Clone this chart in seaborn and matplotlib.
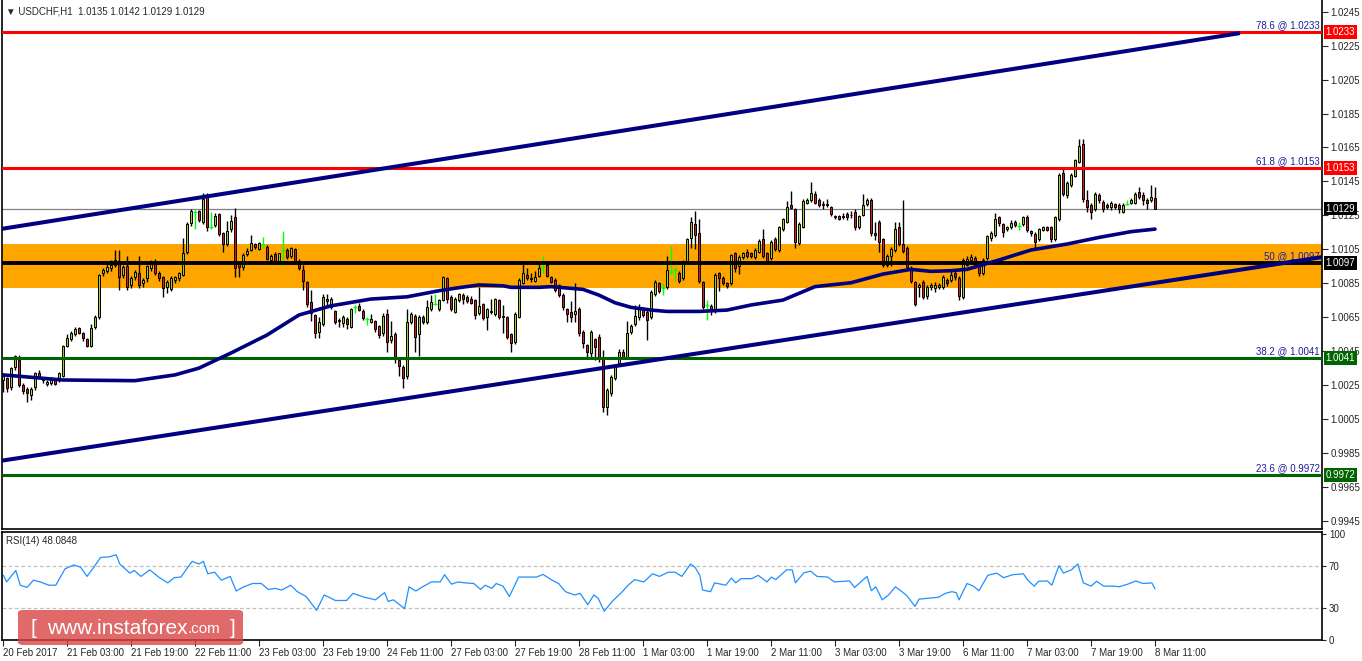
import matplotlib
matplotlib.use("Agg")
import matplotlib.pyplot as plt
import matplotlib.transforms as mtrans
from matplotlib.patches import FancyBboxPatch
import numpy as np
import pandas as pd
import seaborn as sns

# USDCHF H1 candles, prices given as pips above 1.0000
opens = [
    28, 29, 23.7, 35.4, 39.8, 25, 22.7, 19.1, 23.7, 32.3,
    29.3, 25.4, 26, 28, 28, 30.3, 48.2, 52, 55, 58.4,
    55.5, 52, 48.2, 59.4, 65.3, 90.8, 92.4, 93.8, 95.7, 98.3,
    89.8, 95.1, 83.9, 88.5, 91.2, 85, 87.9, 93.8, 97.7, 91.2,
    88.9, 83, 81.4, 86.9, 87.9, 89.9, 103.6, 120.7, 127, 127.6,
    121.3, 136, 118.3, 119.3, 125.8, 114.4, 108.1, 116.7, 123.8, 96.1,
    94.8, 102.3, 104.6, 107.9, 105.4, 107.5, 106.5, 98.5, 102, 98.3,
    104.6, 104.6, 101.2, 105.2, 98.1, 92.8, 85.5, 73.7, 66.3, 56.4,
    61, 75.5, 71.2, 68.6, 63.3, 61.7, 63.7, 59.4, 70.8, 71.6,
    68.8, 63.7, 62.3, 62.7, 59.8, 55.5, 66.7, 51.5, 55, 39.7,
    35.8, 30.5, 62.3, 65.7, 54.9, 65.3, 61.9, 69.6, 72.5, 69.6,
    75.1, 87.9, 76.7, 68.2, 75.1, 78, 76.7, 75.5, 75.1, 67.6,
    72.7, 65.3, 68, 66.7, 75.1, 65.7, 64.9, 54.9, 50.5, 65.3,
    85.3, 89.8, 87.6, 86.5, 89.2, 94.7, 95.7, 88.8, 86.9, 83.9,
    78, 69.6, 67.8, 66.7, 69.6, 56.4, 48.6, 43.7, 52.1, 53.5,
    40.7, 11.9, 20.1, 29, 37.8, 44.7, 41.7, 56.4, 61, 64.9,
    70.2, 68.2, 65.3, 78.6, 85.3, 82, 82.6, 91.8, 92.8, 91.2,
    87.9, 98.3, 111.4, 119.9, 114.4, 85.5, 72.2, 71.6, 68.8, 90.8,
    88.3, 84.9, 84.9, 102.6, 95.1, 100.6, 103.6, 102.6, 100.6, 103.6,
    110.8, 102.6, 99.7, 110.8, 104.6, 116.7, 121.3, 131.1, 128.5, 108.5,
    118.3, 132.4, 134, 137.5, 134, 131.5, 131.7, 129.7, 124.6, 124.6,
    124.2, 125.8, 125, 127.1, 118.3, 125.2, 131.5, 134, 114.8, 121.3,
    110.8, 95.7, 101, 104.6, 117.9, 108.1, 105.9, 93.8, 85.5, 82.6,
    85.5, 77.7, 82.6, 82, 82.6, 82.6, 86.9, 86.9, 90.8, 87.9,
    76.7, 96, 98.7, 100, 95, 91.2, 99.7, 111.4, 113.4, 123.8,
    119.9, 116.7, 118.3, 121.3, 118.7, 119.7, 124.2, 115.9, 114, 110.8,
    116.4, 117.9, 118.3, 110.8, 122.6, 149.7, 137, 142.9, 148.2, 156.6,
    167, 134, 131.1, 128.5, 137, 133, 131, 129.7, 131.7, 131.1,
    127.2, 131.7, 132.4, 132.4, 139, 137, 134, 134, 135,
]
closes = [
    30.3, 23, 34.8, 42.1, 25, 21.5, 20.5, 22.5, 31.9, 30,
    28, 27, 28, 25.4, 31.9, 48, 52.9, 55.5, 58, 55.5,
    52.5, 48, 58.4, 65.3, 89.9, 92.8, 94.4, 95.7, 98.7, 88.5,
    94.4, 82.6, 87.9, 91.8, 84, 86.9, 95.2, 97.7, 91.2, 87.9,
    82.4, 85.9, 88.3, 88.9, 90.8, 102.6, 119.9, 127.6, 127, 122.3,
    134.4, 117.9, 118.3, 124.6, 114, 108.1, 116, 121.7, 93.8, 94.8,
    101.6, 104, 108.5, 106.5, 108.5, 107.5, 99.3, 101, 98.3, 102.6,
    104.6, 100.7, 105.6, 98.1, 93.8, 86.5, 72.6, 67.3, 55.5, 62.4,
    77.1, 74.7, 75.7, 62.4, 62.5, 64.9, 60.8, 69.6, 70.8, 69.2,
    64.7, 63.7, 63.9, 58, 54.5, 65.7, 50.5, 53.9, 41.7, 36.2,
    29.3, 61.9, 66.7, 53.5, 64.9, 62.3, 70.8, 73.7, 72.5, 75.1,
    88.5, 75.5, 69.6, 75.5, 78.6, 75.5, 74.7, 73.5, 66.3, 71.6,
    64.7, 69.6, 68.4, 75.5, 65.3, 65.3, 53.5, 49.6, 66.7, 86.9,
    90.8, 87.9, 87.9, 88.5, 93.8, 94.7, 89.2, 85.9, 81, 78,
    70.8, 66.7, 65.3, 68.6, 55.5, 49.6, 44.7, 56.4, 47.6, 40.7,
    12.3, 22.1, 29.5, 35.8, 44.7, 41.7, 55.5, 59.8, 65.7, 71.2,
    66.3, 63.3, 80, 85.9, 80.6, 82, 92.8, 91.8, 92.8, 86.5,
    97.7, 110.8, 121.3, 113.4, 86.5, 71.2, 72.2, 68.8, 89.8, 88.3,
    85.3, 83.3, 101.6, 93.8, 100.2, 102.6, 101, 101, 104.5, 110,
    101, 98.3, 109.5, 105, 117.9, 122.6, 129.7, 129.5, 109.5, 119.9,
    133.6, 134, 138.3, 132.4, 131, 131.2, 131, 125.6, 123.8, 122.8,
    124.6, 123.8, 125.4, 117.9, 124.6, 131.1, 134, 114.4, 113.4, 109.5,
    95.7, 101, 105, 116.7, 108.1, 104.2, 94.7, 86.5, 72.6, 83.9,
    76.7, 82.6, 83.9, 84, 84, 88.5, 84.9, 89.8, 88.5, 77.7,
    98.7, 99, 100.2, 95, 91, 98.7, 112.8, 114.4, 122.6, 120.7,
    115.4, 117.9, 120.7, 119.3, 118.7, 123.8, 116.4, 114.4, 109.5, 116.7,
    117.9, 116.4, 110.8, 123.8, 148.8, 137.6, 144.2, 148.8, 157.6, 165.8,
    134.4, 129.7, 127.2, 137.6, 134, 128.5, 130, 132.1, 129.7, 128.5,
    131.1, 131.7, 134, 137.6, 135.6, 134, 132.4, 135.6, 129,
]
highs = [
    31.5, 30, 35.5, 42.7, 42.7, 26, 24, 24, 32.8, 33.9,
    30, 28, 29.5, 28.5, 33, 48.5, 55, 57, 59.5, 59.5,
    56, 53, 61, 66, 90.5, 94, 97, 98.7, 104.4, 104.6,
    96, 101, 89, 93, 101, 88, 96, 98.5, 99, 92,
    89.5, 87, 89, 89.5, 91.5, 111.5, 121, 128.5, 128, 128,
    138, 138, 127, 126.5, 126.6, 115, 121.5, 125, 129.5, 97.5,
    103, 105.5, 113.4, 109, 109.5, 112, 107.5, 102, 103.5, 103,
    116, 106, 106.5, 106, 99, 96, 86.5, 81, 67, 65,
    78.7, 78.7, 77, 69.5, 64.5, 66.5, 65, 70.5, 72.2, 73.1,
    70, 65.3, 67, 63.5, 60.5, 67.5, 69.6, 62.9, 56, 41,
    37, 69.8, 68, 67, 66, 66.5, 75.1, 78, 78.6, 76,
    89, 88.5, 78, 77, 79.5, 79, 78, 77.5, 76, 83,
    73.5, 70.5, 75.5, 76.5, 76, 72.2, 65.5, 55.5, 68, 88,
    96.7, 94, 91, 92, 96.5, 101, 96.7, 89.5, 88, 84.5,
    79, 70.5, 74.7, 84.9, 71, 57.5, 49.5, 57.5, 53, 55,
    45.5, 23, 31, 37, 46, 46, 62.5, 61, 72.3, 73,
    71, 69.5, 81, 87, 86, 84.9, 101, 106.9, 94.7, 92,
    98.5, 111.5, 124.2, 127.5, 122.6, 86.5, 75.1, 72.5, 91, 91.5,
    89.5, 85.5, 102.5, 103.5, 101.5, 103.5, 105, 103.5, 105.5, 111,
    116.7, 103.5, 110.5, 112, 118.5, 123.5, 133.6, 139.5, 129.5, 121,
    134.5, 135.5, 144.4, 139.5, 135.5, 133.5, 134.5, 130.5, 125.5, 125.5,
    126.5, 126.7, 127.5, 128.5, 125.5, 137.5, 135, 135, 121.3, 122.2,
    111.5, 102, 106.5, 121.3, 121, 134, 107, 95, 86.5, 85,
    87, 84, 85, 86, 85, 90, 88, 92, 92, 89,
    100, 101, 102, 101, 96, 100, 113.5, 115.5, 126.5, 124.8,
    120.5, 119, 122, 122, 121, 124.5, 125, 116.5, 115, 117.5,
    118.5, 118.5, 119, 124.5, 150, 153.7, 145, 150, 158.5, 170,
    170, 140, 132, 138.5, 138, 134, 132, 133.5, 132.5, 132,
    132, 134, 135, 139, 142, 138.5, 135, 142.9, 142,
]
lows = [
    21, 20.7, 22, 34, 24, 20, 15.2, 16, 22, 29,
    26.5, 24.5, 25, 25, 27, 30, 47.5, 51, 54, 55,
    51, 47.5, 47.5, 58, 64, 89, 91, 92, 94.5, 81,
    88, 81, 82, 87, 82, 83, 86, 92, 90, 86.5,
    77, 79.5, 80.5, 85, 86.5, 89, 102, 119, 117, 121,
    120, 116, 117, 118, 113, 103.5, 107, 115, 88.5, 88.5,
    93, 101, 104, 105, 104.5, 106, 98.5, 97.5, 96.5, 97,
    95.7, 99, 100, 96.5, 93, 81, 71, 63, 52.5, 52.5,
    60, 72, 70, 61, 59.5, 59, 58, 58.5, 67.6, 68.5,
    63.5, 60.4, 61.5, 56.5, 52.5, 54, 44.7, 50, 38.2, 30.3,
    23.4, 28.5, 61, 44.6, 42.1, 61, 61, 68.5, 72, 68.5,
    74.5, 73.5, 68.5, 67.5, 74, 72.5, 73.5, 72.5, 64, 66,
    63.5, 57.4, 67, 65.5, 64, 55.5, 52, 44.6, 49.5, 64.5,
    84.5, 87, 86, 85.5, 88.5, 91, 88.5, 85, 80, 77,
    69.5, 62, 62, 62.3, 54, 47, 40.5, 40.7, 39.5, 38.5,
    9.3, 7.3, 18.5, 28, 37, 40.5, 40.7, 55, 60, 63.5,
    65, 51.5, 64, 77.5, 79.5, 78, 81.5, 90.4, 86.5, 85,
    87, 97.5, 106, 105, 85, 70, 63.3, 66.5, 67.5, 80.5,
    84, 82, 84, 91.5, 90.4, 99.5, 100, 100, 99.5, 103,
    100, 97, 98.5, 104, 103.5, 115.5, 120.5, 128.5, 105.5, 107.5,
    117.5, 131.5, 133, 131.5, 130, 129, 130, 124.5, 123, 122,
    123, 122.5, 123.5, 116.5, 117, 124.5, 130.5, 113, 110.5, 103.5,
    94.5, 94.5, 95, 103.5, 107, 103, 93.5, 85, 71.5, 77,
    75.5, 76, 81, 80, 81.5, 81.5, 83.5, 86, 87, 75,
    76, 95, 97.5, 94, 89.5, 90, 98.5, 110, 112, 119,
    112.5, 115.5, 117, 118, 116.5, 118.5, 115, 113, 105.5, 110,
    115.5, 115.5, 109.5, 110, 121.5, 136.5, 135.5, 142, 147.5, 156,
    133, 127, 122.6, 127.5, 132.5, 127, 128.5, 128, 128.5, 126.5,
    126.5, 131, 131.5, 131.5, 134.5, 131, 129, 133, 129,
]

# moving average (pips), sampled along the curve
ma_bars = [0, 15, 33, 43, 49, 57, 66, 74, 82, 86, 92, 101, 109, 114, 119, 125, 127, 134, 137, 142,
           145, 149, 153, 157, 162, 166, 174, 181, 187, 195, 203, 212, 220, 227, 232, 237, 241, 249,
           257, 266, 274, 282, 288]
ma_vals = [31, 28, 27.6, 31, 35, 43.9, 54.5, 66.3, 71.7, 73.3, 75.7, 77, 80.6, 82.4, 84, 83.5, 82.6,
           82.6, 83, 82, 81.4, 78, 73.5, 70.8, 69.2, 68.4, 68.4, 69.2, 72.2, 75.1, 83, 85.3, 90.4,
           93.2, 92, 92.4, 93.2, 98.7, 104.6, 108.1, 112, 115.4, 116.9]

# RSI(14)
rsi_bars = [0.1, 0.9, 3.2, 4.3, 6.0, 7.6, 9.3, 11.5, 13.2, 15.5, 17.7, 19.4, 21.0, 22.7, 24.4, 26.6,
            28.3, 29.2, 31.7, 32.8, 34.5, 36.7, 38.9, 41.2, 42.8, 44.5, 46.2, 47.3, 49.0, 50.1, 51.2,
            52.9, 54.6, 56.8, 58.3, 60.2, 62.4, 64.6, 66.3, 68.0, 69.7, 71.9, 73.6, 75.8, 78.4, 80.3,
            83.1, 85.9, 87.5, 90.3, 93.1, 95.4, 96.3, 97.6, 100.4, 101.5, 103.2, 104.9, 107.1, 109.3,
            110.4, 112.1, 113.8, 115.5, 117.7, 119.4, 120.5, 122.2, 123.3, 125.0, 126.6, 128.9, 131.1,
            133.4, 135.0, 137.3, 138.9, 140.6, 142.9, 144.3, 146.2, 147.7, 148.8, 150.3, 152.3, 154.6,
            156.3, 157.9, 160.2, 162.4, 164.1, 166.3, 168.0, 169.7, 171.9, 173.0, 174.2,
            174.9, 176.9, 177.9, 180.7, 182.1, 183.2, 184.5, 187.2, 188.8, 191.0, 192.1, 193.2, 195.9,
            197.3, 198.1, 200.2, 201.9, 203.5, 206.2, 207.8, 211.6, 212.9, 216.0, 217.1, 218.2, 219.8,
            221.4, 223.1, 225.8, 228.0, 229.0, 231.2, 233.9, 235.6, 237.2, 238.3, 239.0, 241.0, 242.6,
            244.0, 246.2, 248.4, 250.2, 252.4, 255.1, 256.2, 257.8, 258.9, 261.1, 262.2, 264.0, 265.1,
            267.1, 268.7, 270.1, 272.0, 273.4, 275.2, 277.9, 279.0, 281.2, 283.2, 285.0, 287.2, 288.0]
rsi_vals = [60.8, 54.6, 65.4, 51.5, 49.4, 56.2, 54.6, 51.5, 51.5, 66.9, 70.6, 68.5, 59.8, 68.5, 77.7,
            78.3, 80.2, 71.5, 62.9, 65.4, 59.8, 66.0, 59.2, 53.7, 58.6, 59.2, 68.5, 74.0, 71.5, 74.0,
            62.3, 63.8, 56.2, 59.8, 46.0, 50.0, 53.1, 53.1, 47.5, 48.5, 46.9, 51.5, 45.4, 40.8, 27.8,
            42.3, 37.1, 37.1, 43.8, 40.2, 37.7, 44.5, 36.2, 37.7, 29.4, 50.0, 46.0, 50.0, 54.6, 54.6,
            61.4, 52.5, 54.6, 53.7, 53.1, 47.5, 51.5, 48.5, 53.1, 50.6, 40.8, 59.2, 59.2, 59.2, 61.7,
            56.2, 53.1, 45.4, 42.3, 43.8, 33.1, 42.3, 39.2, 26.9, 36.2, 44.5, 51.5, 56.8, 54.6, 62.3,
            59.8, 63.8, 63.8, 59.8, 71.5, 68.5, 60.8,
            46.9, 45.4, 53.7, 51.5, 58.3, 53.7, 57.7, 57.7, 60.8, 54.6, 59.2, 56.8, 66.0, 66.0, 53.7,
            63.2, 64.8, 59.8, 59.2, 54.6, 55.5, 49.4, 59.8, 46.3, 50.0, 37.7, 42.3, 50.0, 42.3, 31.5,
            38.3, 39.2, 40.2, 43.8, 45.4, 44.5, 37.7, 53.1, 50.6, 46.3, 60.8, 62.9, 58.6, 61.4, 62.3,
            56.2, 50.6, 55.2, 55.5, 51.5, 70.0, 62.9, 66.0, 71.5, 53.7, 50.6, 55.2, 50.6, 50.6, 50.0,
            52.5, 55.5, 53.1, 53.7, 48.1]

# channel lines (bar, price)
upper_channel_bars = [-0.75, 309.25]
upper_channel_prices = [1.01169, 1.02324]
lower_channel_bars = [-0.75, 329.75]
lower_channel_prices = [0.99803, 1.01004]

# fibonacci levels
level_pct = ["78.6", "61.8", "50", "38.2", "23.6"]
level_prices = [1.0233, 1.0153, 1.0097, 1.0041, 0.9972]
level_colors = ["#FF0000", "#FF0000", "#000000", "#006400", "#006400"]
zone_low, zone_high = 1.0082, 1.0108
last_price = 1.0129

date_labels = ["20 Feb 2017", "21 Feb 03:00", "21 Feb 19:00", "22 Feb 11:00", "23 Feb 03:00",
               "23 Feb 19:00", "24 Feb 11:00", "27 Feb 03:00", "27 Feb 19:00", "28 Feb 11:00",
               "1 Mar 03:00", "1 Mar 19:00", "2 Mar 11:00", "3 Mar 03:00", "3 Mar 19:00",
               "6 Mar 11:00", "7 Mar 03:00", "7 Mar 19:00", "8 Mar 11:00"]

sns.set_style("white")
plt.rcParams['font.family'] = ['Liberation Sans', 'DejaVu Sans']
plt.rcParams['axes.edgecolor'] = 'black'

W, H = 1362, 661
fig = plt.figure(figsize=(W / 100, H / 100), dpi=100)


def box(x0, y0, x1, y1):
    return [x0 / W, 1 - y1 / H, (x1 - x0) / W, (y1 - y0) / H]


ax = fig.add_axes(box(2, 0, 1322, 529))
rsi_ax = fig.add_axes(box(2, 532, 1322, 640))

df = pd.DataFrame({"open": opens, "close": closes, "high": highs, "low": lows})
df = 1 + df / 10000
df["bar"] = np.arange(len(df))

up = df[df.close > df.open]
dn = df[df.close < df.open]
dj = df[df.close == df.open]
bd = df[df.close != df.open]

ax.axhspan(zone_low, zone_high, color="#FFA500", lw=0, zorder=0)
ax.axhline(last_price, color="#808080", lw=0.9, zorder=1)

ax.vlines(bd.bar, bd.low, bd.high, color="black", lw=1, zorder=2)
ax.bar(up.bar, up.close - up.open, bottom=up.open, width=0.72, color="#9ACD32",
       edgecolor="black", lw=0.7, zorder=3)
ax.bar(dn.bar, dn.open - dn.close, bottom=dn.close, width=0.72, color="#CC1F1F",
       edgecolor="black", lw=0.7, zorder=3)
ax.vlines(dj.bar, dj.low, dj.high, color="#00FF00", lw=1, zorder=3)
ax.hlines(dj.open, dj.bar - 0.45, dj.bar + 0.45, color="#00FF00", lw=1, zorder=3)

trans = mtrans.blended_transform_factory(ax.transAxes, ax.transData)
for pct, price, col in zip(level_pct, level_prices, level_colors):
    ax.axhline(price, color=col, lw=2.8 if col == "#000000" else 2.2, zorder=5)
    ax.text(0.9985, price + 0.00012, f"{pct} @ {price:.4f}", transform=trans, ha="right",
            va="bottom", fontsize=7, color="#1C1C9C", zorder=5)

ax.plot(upper_channel_bars, [1 + 0 * 0 + p - 1 for p in upper_channel_prices],
        color="#000080", lw=2.9, zorder=6, solid_capstyle="butt")
ax.plot(lower_channel_bars, lower_channel_prices, color="#000080", lw=2.9, zorder=6,
        solid_capstyle="butt")
sns.lineplot(x=ma_bars, y=[1 + v / 10000 for v in ma_vals], ax=ax, color="#000080", lw=2.6,
             zorder=6)

ax.set_xlim(-0.25, 329.75)
ax.set_ylim(0.99402, 1.02519)
ax.set_xticks([])
ax.set_xlabel("")
ax.set_ylabel("")
yt = np.round(np.arange(0.9945, 1.0246, 0.002), 4)
ax.set_yticks(yt)
ax.set_yticklabels([f"{v:.4f}" for v in yt])
ax.yaxis.tick_right()
ax.tick_params(axis="y", right=True, left=False, length=4, width=0.8, labelsize=7, pad=2,
               direction="out")
ax.spines["top"].set_visible(False)
for s in ["left", "right", "bottom"]:
    ax.spines[s].set_linewidth(1.2)

for price, col in zip(level_prices + [last_price], level_colors + ["#000000"]):
    ax.text(1.0025, price, f"{price:.4f}", transform=trans, ha="left", va="center", fontsize=7,
            color="white", clip_on=False, zorder=10,
            bbox=dict(boxstyle="square,pad=0.18", fc=col, ec="none"))

# RSI panel
rsi_ax.axhline(70, color="#C0C0C0", lw=0.9, ls=(0, (3, 2)))
rsi_ax.axhline(30, color="#C0C0C0", lw=0.9, ls=(0, (3, 2)))
sns.lineplot(x=rsi_bars, y=rsi_vals, ax=rsi_ax, color="#1E90FF", lw=0.9)
rsi_ax.set_xlim(-0.25, 329.75)
rsi_ax.set_ylim(-0.2, 101.7)
rsi_ax.set_xlabel("")
rsi_ax.set_ylabel("")
rsi_ax.set_yticks([0, 30, 70, 100])
rsi_ax.yaxis.tick_right()
rsi_ax.tick_params(axis="y", right=True, left=False, length=3, width=0.8, labelsize=7, pad=2)
rsi_ax.set_xticks(np.arange(0, 289, 16))
rsi_ax.set_xticklabels(date_labels, ha="left")
rsi_ax.tick_params(axis="x", bottom=True, length=4, width=0.8, labelsize=7, pad=2)
for s in rsi_ax.spines.values():
    s.set_linewidth(1.2)

fig.text(6 / W, 1 - 11 / H, "\u25bc USDCHF,H1  1.0135 1.0142 1.0129 1.0129", fontsize=7,
         va="center", ha="left")
fig.text(6 / W, 1 - 541 / H, "RSI(14) 48.0848", fontsize=7, va="center", ha="left")

# watermark
fig.patches.append(FancyBboxPatch((18 / W, 1 - 645 / H), 225 / W, 35 / H,
                                  boxstyle="round,pad=0,rounding_size=0.004",
                                  transform=fig.transFigure, facecolor="#D94545", alpha=0.8,
                                  edgecolor="none", zorder=20))
fig.text(30 / W, 1 - 628 / H, "[", fontsize=15, color="white", va="center", zorder=21)
t1 = fig.text(47 / W, 1 - 628 / H, "www.instaforex", fontsize=15, color="white",
              va="center", zorder=21)
fig.canvas.draw()
bb = t1.get_window_extent()
fig.text(bb.x1 / W, 1 - 629 / H, ".com", fontsize=11, color="white", va="center", zorder=21)
fig.text(230 / W, 1 - 628 / H, "]", fontsize=15, color="white", va="center", zorder=21)

fig.savefig("out.png", dpi=100)
